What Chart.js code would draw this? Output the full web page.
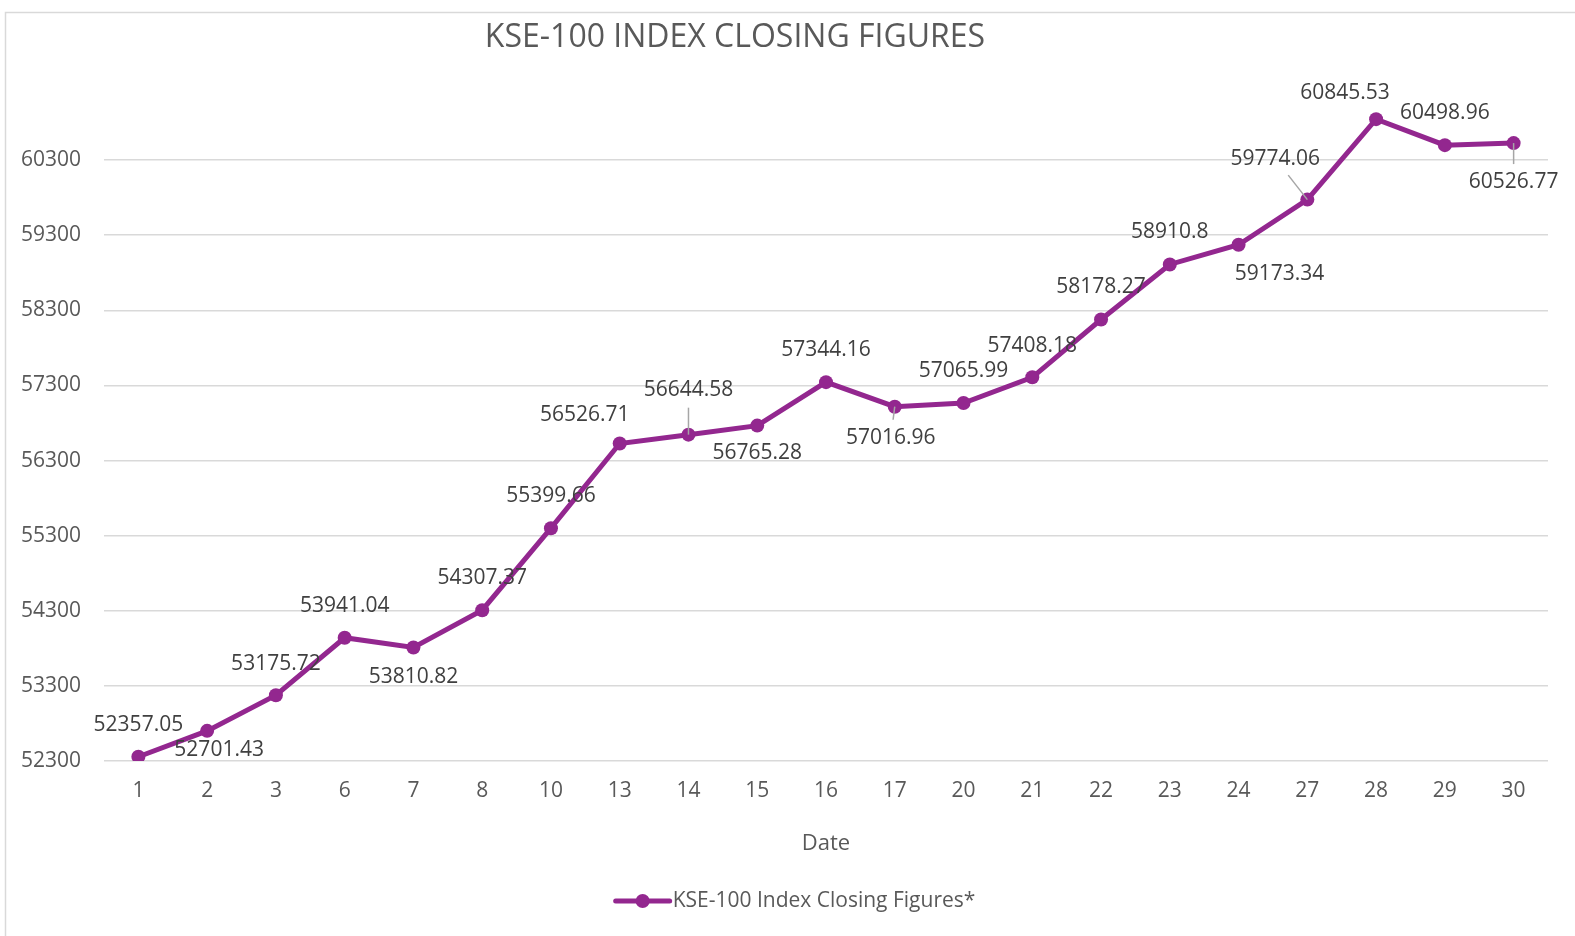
<!DOCTYPE html>
<html>
<head>
<meta charset="utf-8">
<title>KSE-100 Index Closing Figures</title>
<script src="https://cdn.jsdelivr.net/npm/chart.js@4.4.1/dist/chart.umd.min.js"></script>
<style>
  html, body { margin: 0; padding: 0; background: #fff; }
  #wrap { width: 1575px; height: 936px; }
</style>
</head>
<body>
<div id="wrap"><canvas id="myChart" width="1575" height="936"></canvas></div>
<script>
// data
const dates = ["1", "2", "3", "6", "7", "8", "10", "13", "14", "15", "16",
  "17", "20", "21", "22", "23", "24", "27", "28", "29", "30"];
const closing = [52357.05, 52701.43, 53175.72, 53941.04, 53810.82, 54307.37,
  55399.66, 56526.71, 56644.58, 56765.28, 57344.16, 57016.96, 57065.99,
  57408.18, 58178.27, 58910.8, 59173.34, 59774.06, 60845.53, 60498.96, 60526.77];
const yTicks = [52300, 53300, 54300, 55300, 56300, 57300, 58300, 59300, 60300];

// where each value label sits relative to its point (dx, dy) and if it has a leader line
const labelOffsets = [[0, -32], [12, 19], [0, -31], [0, -32], [0, 29], [0, -32],
  [0, -32], [-35, -29], [0, -45], [0, 27], [0, -32], [-4, 31], [0, -32],
  [0, -31], [0, -32], [0, -32], [41, 29], [-32, -41], [-31, -26], [0, -32], [0, 39]];
const leaderLines = [false, false, false, false, false, false, false, false, true,
  false, false, true, false, false, false, false, false, true, false, false, true];

const purple = "#93278F";
const fontFamily = "'Open Sans', sans-serif";

const extrasPlugin = {
  id: "extras",
  afterDatasetsDraw(chart) {
    const ctx = chart.ctx;
    const meta = chart.getDatasetMeta(0);
    ctx.save();
    ctx.font = "21px " + fontFamily;
    ctx.textAlign = "center";
    ctx.textBaseline = "middle";
    meta.data.forEach((pt, i) => {
      const text = String(closing[i]);
      const lx = pt.x + labelOffsets[i][0];
      const ly = pt.y + labelOffsets[i][1];
      if (leaderLines[i]) {
        const hw = ctx.measureText(text).width / 2;
        const hh = 11;
        const dx = pt.x - lx, dy = pt.y - ly;
        const len = Math.hypot(dx, dy);
        const t = Math.min(dx ? hw / Math.abs(dx) : Infinity, dy ? hh / Math.abs(dy) : Infinity);
        const sx = lx + dx * t + (dx / len) * 7;
        const sy = ly + dy * t + (dy / len) * 7;
        ctx.strokeStyle = "#a6a6a6";
        ctx.lineWidth = 1.5;
        ctx.beginPath();
        ctx.moveTo(sx, sy);
        ctx.lineTo(pt.x, pt.y);
        ctx.stroke();
      }
      ctx.fillStyle = "#404040";
      ctx.fillText(text, lx, ly);
    });
    ctx.restore();
  },
  afterDraw(chart) {
    const ctx = chart.ctx;
    const area = chart.chartArea;
    ctx.save();
    // outer frame
    ctx.strokeStyle = "#d9d9d9";
    ctx.lineWidth = 1.5;
    ctx.strokeRect(5.5, 12.5, 1600, 1000);

    // title
    ctx.fillStyle = "#595959";
    ctx.textAlign = "center";
    ctx.textBaseline = "middle";
    ctx.font = "32px " + fontFamily;
    ctx.fillText("KSE-100 INDEX CLOSING FIGURES", 735, 38);

    // axis title
    ctx.font = "22px " + fontFamily;
    ctx.fillText("Date", (area.left + area.right) / 2, 844);

    // legend
    const legendText = "KSE-100 Index Closing Figures*";
    ctx.font = "21px " + fontFamily;
    const tw = ctx.measureText(legendText).width;
    const total = 54 + 3 + tw;
    const x0 = chart.width / 2 - total / 2 + 8;
    const ly = 901;
    ctx.strokeStyle = purple;
    ctx.lineWidth = 5;
    ctx.lineCap = "round";
    ctx.beginPath();
    ctx.moveTo(x0, ly);
    ctx.lineTo(x0 + 54, ly);
    ctx.stroke();
    ctx.fillStyle = purple;
    ctx.beginPath();
    ctx.arc(x0 + 27, ly, 7, 0, Math.PI * 2);
    ctx.fill();
    ctx.fillStyle = "#595959";
    ctx.textAlign = "left";
    ctx.fillText(legendText, x0 + 57, ly);
    ctx.restore();
  }
};

const ctx = document.getElementById("myChart").getContext("2d");
const myChart = new Chart(ctx, {
  type: "line",
  data: {
    labels: dates,
    datasets: [{
      label: "KSE-100 Index Closing Figures*",
      data: closing,
      borderColor: purple,
      backgroundColor: purple,
      borderWidth: 5,
      pointRadius: 7,
      pointBorderWidth: 0,
      pointBackgroundColor: purple,
      tension: 0,
      fill: false,
    }],
  },
  options: {
    responsive: false,
    animation: false,
    devicePixelRatio: 1,
    layout: { padding: { left: 0, right: 27, top: 85, bottom: 0 } },
    scales: {
      x: {
        offset: true,
        grid: { display: false, drawTicks: false },
        border: { display: false },
        ticks: {
          color: "#595959",
          font: { family: fontFamily, size: 21 },
          padding: 17,
          maxRotation: 0,
          autoSkip: false,
        },
        afterFit(scale) { scale.height = 175; },
      },
      y: {
        min: 52300,
        max: 61300,
        grid: { color: "#d9d9d9", lineWidth: 1.5, drawTicks: false },
        border: { display: false },
        ticks: {
          color: "#595959",
          font: { family: fontFamily, size: 21 },
          padding: 23,
          callback: (v) => String(v),
        },
        afterBuildTicks(scale) {
          scale.ticks = yTicks.map((v) => ({ value: v }));
        },
        afterFit(scale) { scale.width = 104; },
      },
    },
    plugins: {
      legend: { display: false },
      title: { display: false },
      tooltip: { enabled: false },
    },
  },
  plugins: [extrasPlugin],
});
</script>
</body>
</html>
